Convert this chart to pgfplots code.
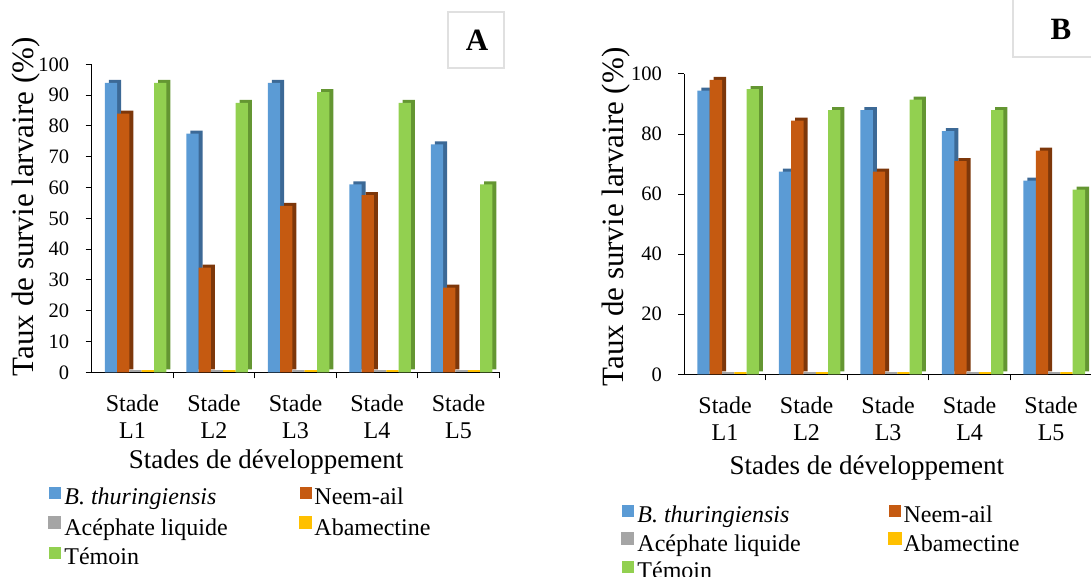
\documentclass[border=0pt]{standalone}
\usepackage{fontspec}
\setmainfont{Liberation Serif}
\usepackage{pgfplots}
\pgfplotsset{compat=1.18}
\usepackage{pgfplotstable}

\definecolor{bluec}{RGB}{91,155,213}
\definecolor{blued}{RGB}{60,105,150}
\definecolor{orangec}{RGB}{197,90,17}
\definecolor{oranged}{RGB}{125,55,10}
\definecolor{grayc}{RGB}{165,165,165}
\definecolor{yellowc}{RGB}{255,192,0}
\definecolor{greenc}{RGB}{146,208,80}
\definecolor{greend}{RGB}{100,150,50}

\pgfplotstableread{
x bt neem ace aba tem
1 94 84 0 0 94
2 77.5 34 0 0 87.5
3 94 54 0 0 91
4 61 57.5 0 0 87.5
5 74 27.5 0 0 61
}\dataA

\pgfplotstableread{
x bt neem ace aba tem
1 94.5 98 0 0 95
2 67.5 84.5 0 0 88
3 88 67.5 0 0 91.5
4 81 71 0 0 88
5 64.5 74.5 0 0 61.5
}\dataB

\pgfplotsset{
  panel/.style={
    scale only axis, width=407.6pt,
    ybar, bar width=12.3pt,
    xmin=0.5, xmax=5.5, ymin=0, ymax=100,
    axis x line=bottom, axis y line=left,
    axis line style={-, line width=1.1pt, black},
    xtick={1,2,3,4,5},
    xticklabels={Stade\\L1,Stade\\L2,Stade\\L3,Stade\\L4,Stade\\L5},
    minor xtick={1.5,2.5,3.5,4.5,5.5},
    tick align=outside, major tick length=6pt, minor tick length=6pt,
    major x tick style={draw=none},
    tick style={black, line width=1pt},
    xticklabel style={align=center, font=\fontsize{24}{27}\selectfont, yshift=-13pt},
    yticklabel style={font=\fontsize{20.5}{24}\selectfont, xshift=-13pt},
    /pgf/number format/assume math mode=true,
    clip=false,
    legend columns=2,
    legend cell align=left,
    legend style={draw=none, fill=none, anchor=north west,
      font=\fontsize{24}{27}\selectfont, inner sep=0pt, column sep=0pt,
      nodes={inner sep=0pt, text height=16pt, text depth=5pt}},
  },
  sq/.style={legend image code/.code={\fill[#1] (0pt,0pt) rectangle (11.5pt,11.5pt);}},
}

\newcommand{\bars}[1]{%
  \addplot[fill=blued, draw=none, bar shift=-21.5pt, xshift=4pt, yshift=3pt, forget plot] table[x=x,y=bt]{#1};
  \addplot[fill=bluec, draw=none, bar shift=-21.5pt, sq=bluec] table[x=x,y=bt]{#1};
  \addplot[fill=oranged, draw=none, bar shift=-9.2pt, xshift=4pt, yshift=3pt, forget plot] table[x=x,y=neem]{#1};
  \addplot[fill=orangec, draw=none, bar shift=-9.2pt, sq=orangec] table[x=x,y=neem]{#1};
  \addplot[fill=grayc, draw=grayc, line width=1.6pt, bar shift=3.1pt, yshift=1.2pt, sq=grayc] table[x=x,y=ace]{#1};
  \addplot[fill=yellowc, draw=yellowc, line width=1.6pt, bar shift=15.4pt, yshift=1.2pt, sq=yellowc] table[x=x,y=aba]{#1};
  \addplot[fill=greend, draw=none, bar shift=27.7pt, xshift=4pt, yshift=3pt, forget plot] table[x=x,y=tem]{#1};
  \addplot[fill=greenc, draw=none, bar shift=27.7pt, sq=greenc] table[x=x,y=tem]{#1};
}

\begin{document}
\begin{tikzpicture}
\useasboundingbox (0pt,0pt) rectangle (1091pt,577pt);

% Panel A
\begin{axis}[panel, at={(91.7pt,204.7pt)}, anchor=south west, height=308pt,
    ytick={0,10,...,100},
    ylabel={Taux de survie larvaire (\%)},
    ylabel style={at={(axis description cs:-0.16,0.537)}, anchor=center, rotate=0, font=\fontsize{31}{34}\selectfont},
    xlabel={Stades de développement},
    xlabel style={at={(axis description cs:0.428,-0.291)}, anchor=center, font=\fontsize{27}{30}\selectfont},
    legend style={at={(axis description cs:-0.107,-0.372)}, row sep=7pt},
  ]
  \bars{\dataA}
  \legend{\makebox[238pt][l]{\hspace{3pt}\textit{B. thuringiensis}},\hspace{2pt}Neem-ail,\makebox[238pt][l]{\hspace{3pt}Acéphate liquide},\hspace{2pt}Abamectine,\makebox[238pt][l]{\hspace{3pt}Témoin}}
\end{axis}

% Panel B
\begin{axis}[panel, at={(684.3pt,202.7pt)}, anchor=south west, height=300.3pt,
    ytick={0,20,...,100},
    ylabel={Taux de survie larvaire (\%)},
    ylabel style={at={(axis description cs:-0.167,0.524)}, anchor=center, rotate=0, font=\fontsize{31}{34}\selectfont},
    xlabel={Stades de développement},
    xlabel style={at={(axis description cs:0.448,-0.312)}, anchor=center, font=\fontsize{27}{30}\selectfont},
    legend style={at={(axis description cs:-0.155,-0.435)}, row sep=5pt},
  ]
  \bars{\dataB}
  \legend{\makebox[254pt][l]{\hspace{3pt}\textit{B. thuringiensis}},\hspace{2pt}Neem-ail,\makebox[254pt][l]{\hspace{3pt}Acéphate liquide},\hspace{2pt}Abamectine,\makebox[254pt][l]{\hspace{3pt}Témoin}}
\end{axis}

% Panel boxes
\draw[black!12, line width=1.2pt] (448pt,509pt) rectangle (504pt,565pt);
\node[font=\fontsize{31}{34}\selectfont\bfseries] at (477pt,537pt) {A};
\draw[black!12, line width=1.2pt] (1013pt,520pt) rectangle (1120pt,578pt);
\node[font=\fontsize{31}{34}\selectfont\bfseries] at (1061pt,548pt) {B};
\end{tikzpicture}
\end{document}
